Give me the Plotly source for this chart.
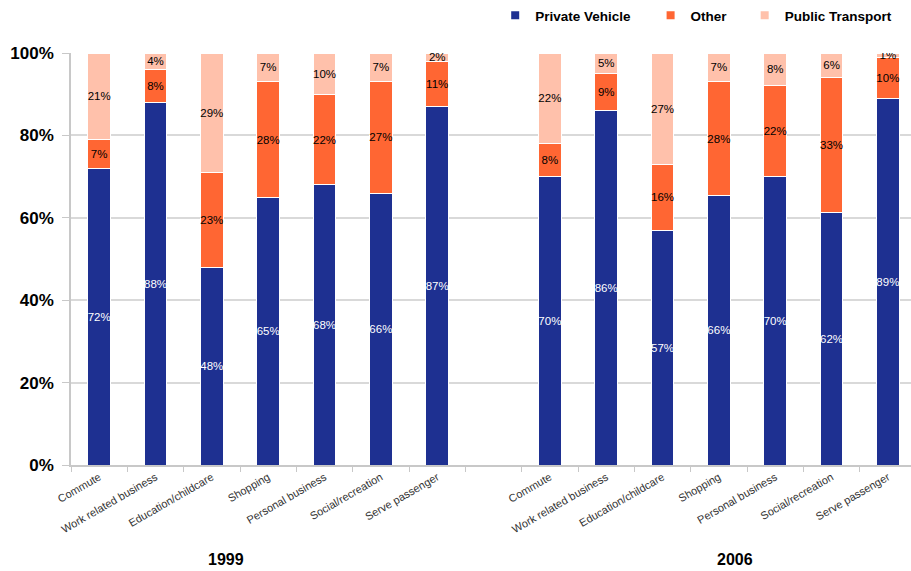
import plotly.graph_objects as go

categories = ["Commute", "Work related business", "Education/childcare", "Shopping",
              "Personal business", "Social/recreation", "Serve passenger"]
years = ["1999", "2006"]

pv_1999 = [72, 88, 48, 65, 68, 66, 87]
other_1999 = [7, 8, 23, 28, 22, 27, 11]
pt_1999 = [21, 4, 29, 7, 10, 7, 2]

pv_2006 = [70, 86, 57, 66, 70, 62, 89]
other_2006 = [8, 9, 16, 28, 22, 33, 10]
pt_2006 = [22, 5, 27, 7, 8, 6, 1]

y_ticks = [0, 20, 40, 60, 80, 100]
y_tick_text = ["0%", "20%", "40%", "60%", "80%", "100%"]

series_names = ["Private Vehicle", "Other", "Public Transport"]
colors = ["#1E3091", "#FF6633", "#FFC1AB"]
text_colors = ["white", "black", "black"]

n = len(categories)
x_pos = list(range(n)) + [n + 1 + i for i in range(n)]
tick_text = categories + categories

series = [pv_1999 + pv_2006, other_1999 + other_2006, pt_1999 + pt_2006]

fig = go.Figure()
for name, vals, col, tcol in zip(series_names, series, colors, text_colors):
    fig.add_trace(go.Bar(
        x=x_pos, y=vals, name=name, showlegend=False,
        marker=dict(color=col, line=dict(color="white", width=1)),
        width=0.4,
        text=[f"{v}%" for v in vals],
        textposition="inside", insidetextanchor="middle", textangle=0,
        textfont=dict(color=tcol, size=11.5, family="Liberation Sans, Arial"),
        hoverinfo="skip",
    ))

legend_names = ["legend", "legend2", "legend3"]
legend_x = [0.505, 0.69, 0.802]
for name, col, lg in zip(series_names, colors, legend_names):
    fig.add_trace(go.Scatter(
        x=[None], y=[None], mode="markers", name=name, legend=lg,
        marker=dict(symbol="square", size=8, color=col),
        showlegend=True,
    ))

total_slots = 2 * n + 1
left_px = 70.8
right_px = 911
slot_px = 56.35
x_max = -0.5 + (right_px - left_px) / slot_px

legend_font = dict(family="Liberation Sans, Arial", size=13.5, color="black", weight="bold")
leg_common = dict(orientation="h", yanchor="middle", y=1.092, xanchor="left",
                  font=legend_font, bgcolor="rgba(0,0,0,0)", borderwidth=0)

fig.update_layout(
    barmode="stack", barnorm="percent",
    width=911, height=571,
    margin=dict(l=70.8, r=0, t=53, b=106),
    plot_bgcolor="white", paper_bgcolor="white",
    font=dict(family="Liberation Sans, Arial", color="black"),
    uniformtext=dict(minsize=11.5, mode="show"),
    legend=dict(x=legend_x[0], **leg_common),
    legend2=dict(x=legend_x[1], **leg_common),
    legend3=dict(x=legend_x[2], **leg_common),
    xaxis=dict(
        range=[-0.5, x_max], tickmode="array", tickvals=x_pos, ticktext=tick_text,
        tickangle=-30, ticks="", ticklen=0,
        tickfont=dict(size=11, color="#333333", family="Liberation Sans, Arial"),
        showline=True, linecolor="#C8C8C8", linewidth=1.5, showgrid=False,
        zeroline=False,
        minor=dict(tickmode="array", tickvals=[i - 0.5 for i in range(total_slots + 1)],
                   ticks="outside", ticklen=5, tickcolor="#C8C8C8", tickwidth=1,
                   showgrid=False),
    ),
    yaxis=dict(
        range=[0, 100], tickmode="array", tickvals=y_ticks, ticktext=y_tick_text,
        tickfont=dict(size=17, color="black", family="Liberation Sans, Arial", weight="bold"),
        showgrid=True, gridcolor="#D9D9D9", gridwidth=1.5,
        ticks="outside", ticklen=7, tickcolor="#C8C8C8", tickwidth=1,
        showline=True, linecolor="#C8C8C8", linewidth=1.5,
        zeroline=False, ticklabelstandoff=5,
    ),
)

for yr, xc in zip(years, [2.25, 11.29]):
    fig.add_annotation(x=xc, y=-0.23, xref="x", yref="paper", text=f"<b>{yr}</b>",
                       showarrow=False, font=dict(size=16, color="black"),
                       xanchor="center", yanchor="middle")

fig.write_html("out.html")
